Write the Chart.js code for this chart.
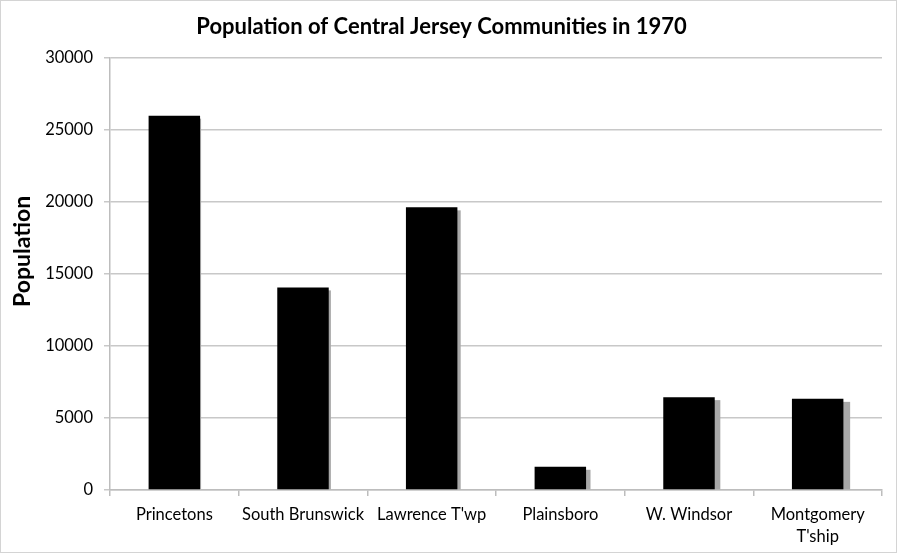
<!DOCTYPE html>
<html>
<head>
<meta charset="utf-8">
<script src="https://cdn.jsdelivr.net/npm/chart.js@4"></script>
<style>
  html, body { margin: 0; padding: 0; background: #fff; }
  #wrap { position: relative; width: 897px; height: 553px; box-sizing: border-box; border: 1px solid #d4d4d4; }
  #c { display: block; }
</style>
</head>
<body>
<div id="wrap"><canvas id="c" width="895" height="551"></canvas></div>
<script>
const categories = ["Princetons", "South Brunswick", "Lawrence T'wp", "Plainsboro", "W. Windsor", ["Montgomery", "T'ship"]];
const population = [25960, 14050, 19600, 1610, 6440, 6320];
const yTicks = [0, 5000, 10000, 15000, 20000, 25000, 30000];
const chartTitle = "Population of Central Jersey Communities in 1970";
const yTitle = "Population";

const FONT = "Lato, 'Open Sans', sans-serif";

const shadowPlugin = {
  id: 'barShadow',
  beforeDatasetsDraw(chart) {
    const ctx = chart.ctx;
    const meta = chart.getDatasetMeta(0);
    ctx.save();
    ctx.fillStyle = '#a8a8a8';
    meta.data.forEach((el, i) => {
      const p = el.getProps(['x', 'y', 'base', 'width'], true);
      const dx = 1 + i * 1.15;
      const dy = 3;
      ctx.fillRect(p.x - p.width / 2 + dx, p.y + dy, p.width, p.base - p.y - dy);
    });
    ctx.restore();
  }
};

new Chart(document.getElementById('c'), {
  type: 'bar',
  data: {
    labels: categories,
    datasets: [{
      data: population,
      backgroundColor: '#000000',
      borderWidth: 0,
      categoryPercentage: 1.0,
      barPercentage: 0.4
    }]
  },
  plugins: [shadowPlugin],
  options: {
    responsive: false,
    animation: false,
    devicePixelRatio: 1,
    layout: { padding: { left: 0, right: 14, top: 0, bottom: 0 } },
    plugins: {
      legend: { display: false },
      tooltip: { enabled: false },
      title: {
        display: true,
        text: chartTitle,
        color: '#000',
        font: { family: FONT, size: 22, weight: 'bold' },
        padding: { top: 13, bottom: 17 }
      }
    },
    scales: {
      x: {
        offset: true,
        grid: { display: true, drawOnChartArea: false, offset: true, color: '#bdbdbd', lineWidth: 1.5, tickLength: 6 },
        border: { color: '#bdbdbd', width: 1.5 },
        ticks: { color: '#000', font: { family: FONT, size: 16.5, lineHeight: 1.3 }, padding: 8, maxRotation: 0, autoSkip: false },
        afterFit(s) { s.height = 551 - 489; }
      },
      y: {
        min: 0,
        max: 30000,
        afterBuildTicks(s) { s.ticks = yTicks.map(v => ({ value: v })); },
        grid: { color: '#c8c8c8', lineWidth: 1.5, tickLength: 6 },
        border: { color: '#bdbdbd', width: 1.5 },
        ticks: { color: '#000', font: { family: FONT, size: 16.5 }, padding: 11, callback: v => String(v) },
        title: {
          display: true,
          text: "        " + yTitle,
          color: '#000',
          font: { family: FONT, size: 23, weight: 'bold' },
          padding: { top: 8, bottom: 2 }
        },
        afterFit(s) { s.width = 109; }
      }
    }
  }
});
</script>
</body>
</html>
